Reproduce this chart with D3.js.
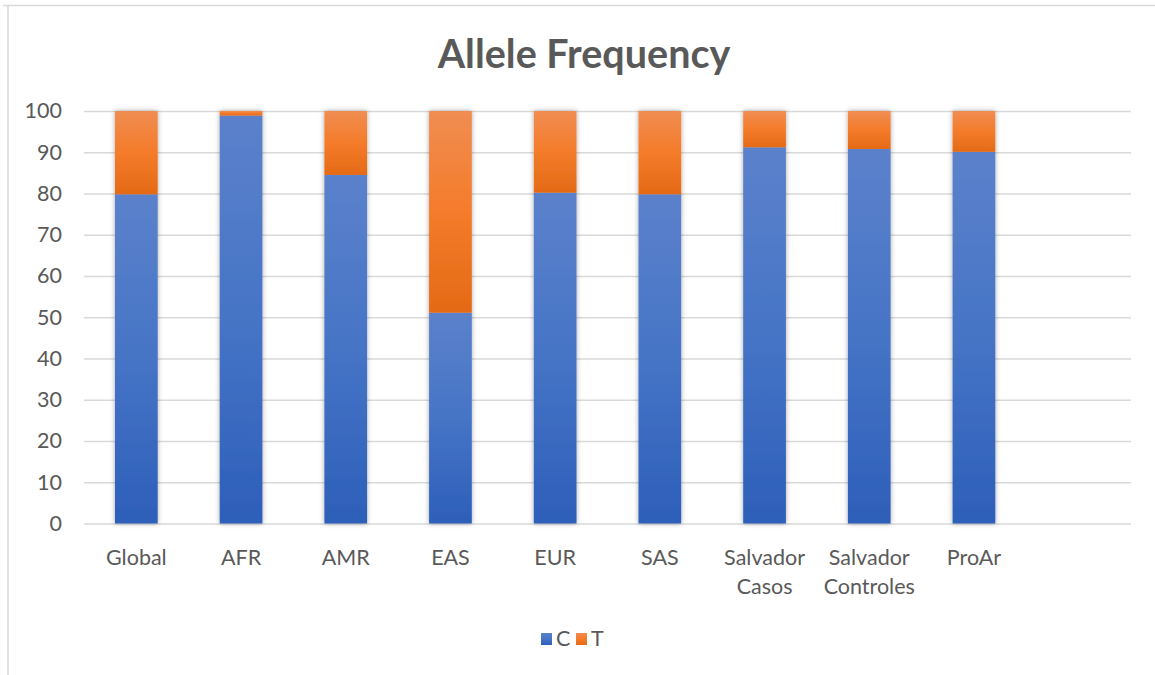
<!DOCTYPE html>
<html>
<head>
<meta charset="utf-8">
<script src="https://cdn.jsdelivr.net/npm/d3@7"></script>
<style>
  html, body { margin: 0; padding: 0; background: #fff; }
  svg { display: block; }
  text { font-family: Lato, "Open Sans", sans-serif; fill: #595959; }
</style>
</head>
<body>
<svg id="chart" width="1155" height="675"></svg>
<script>
const categories = ["Global", "AFR", "AMR", "EAS", "EUR", "SAS", "Salvador Casos", "Salvador Controles", "ProAr", ""];
const seriesNames = ["C", "T"];
const valuesC = [79.8, 98.9, 84.5, 51.1, 80.2, 79.8, 91.2, 90.8, 90.1, null];
const valuesT = [20.2, 1.1, 15.5, 48.9, 19.8, 20.2, 8.8, 9.2, 9.9, null];
const yTicks = [0, 10, 20, 30, 40, 50, 60, 70, 80, 90, 100];
const title = "Allele Frequency";

const svg = d3.select("#chart");
const W = 1155, H = 675;
const plot = { left: 84, right: 1131, top: 111, bottom: 523.5 };
const FONT = "Lato, 'Open Sans', sans-serif";
const LABEL_SIZE = "21.5px";

const defs = svg.append("defs");
function grad(id, top, mid, bottom) {
  const g = defs.append("linearGradient").attr("id", id)
    .attr("x1", 0).attr("y1", 0).attr("x2", 0).attr("y2", 1);
  g.append("stop").attr("offset", "0%").attr("stop-color", top);
  g.append("stop").attr("offset", "50%").attr("stop-color", mid);
  g.append("stop").attr("offset", "100%").attr("stop-color", bottom);
}
grad("gC", "#5b81cb", "#4674c6", "#2d5fb9");
grad("gT", "#f08d52", "#f47b2a", "#e46a16");
const f = defs.append("filter").attr("id", "shadow")
  .attr("x", "-40%").attr("y", "-10%").attr("width", "180%").attr("height", "120%");
f.append("feDropShadow").attr("dx", 0).attr("dy", 0).attr("stdDeviation", 2.5)
  .attr("flood-color", "#000").attr("flood-opacity", 0.35);

// chart frame (partial, as in the screenshot)
svg.append("line").attr("x1", 3).attr("x2", W).attr("y1", 5.5).attr("y2", 5.5)
  .attr("stroke", "#d9d9d9").attr("stroke-width", 1.5);
svg.append("line").attr("x1", 8).attr("x2", 8).attr("y1", 5).attr("y2", H)
  .attr("stroke", "#d9d9d9").attr("stroke-width", 1.5);

const x = d3.scaleBand().domain(categories).range([plot.left, plot.right])
  .paddingInner(0.592).paddingOuter(0.296);
const y = d3.scaleLinear().domain([0, 100]).range([plot.bottom, plot.top]);

// gridlines + y tick labels
const yAxis = d3.axisLeft(y).tickValues(yTicks).tickSize(-(plot.right - plot.left)).tickPadding(22);
const ga = svg.append("g").attr("transform", `translate(${plot.left},0)`).call(yAxis);
ga.select(".domain").remove();
ga.selectAll(".tick line").attr("stroke", "#d9d9d9").attr("stroke-width", 1.4);
ga.selectAll(".tick text").style("font-size", LABEL_SIZE).attr("fill", "#595959")
  .style("font-family", FONT);

// stacked bars
const rows = categories.map((c, i) => ({ cat: c, C: valuesC[i], T: valuesT[i] }))
  .filter(r => r.C != null);
const stack = d3.stack().keys(seriesNames)(rows);
const fills = { C: "url(#gC)", T: "url(#gT)" };
svg.append("g").attr("filter", "url(#shadow)")
  .selectAll("g").data(stack).join("g").attr("fill", d => fills[d.key])
  .selectAll("rect").data(d => d).join("rect")
  .attr("x", d => x(d.data.cat))
  .attr("width", x.bandwidth())
  .attr("y", d => y(d[1]))
  .attr("height", d => y(d[0]) - y(d[1]));

// x-axis labels
const xAxis = d3.axisBottom(x).tickSize(0).tickPadding(0);
const gx = svg.append("g").attr("transform", `translate(0,${plot.bottom})`).call(xAxis);
gx.select(".domain").remove();
gx.selectAll(".tick text").each(function(d) {
  const t = d3.select(this);
  t.text(null).attr("y", 0).attr("dy", null)
    .style("font-size", LABEL_SIZE).style("font-family", FONT)
    .attr("fill", "#595959");
  const words = d.split(" ");
  words.forEach((w, i) => {
    t.append("tspan").attr("x", 0).attr("y", 41 + i * 29).text(w);
  });
});

// title
svg.append("text").attr("x", 584).attr("y", 68).attr("text-anchor", "middle")
  .style("font-size", "39.5px").style("font-weight", "bold").attr("fill", "#595959")
  .text(title);

// legend
const legendData = [{ k: "C", x: 541, fill: "url(#gC)" }, { k: "T", x: 576, fill: "url(#gT)" }];
const lg = svg.append("g");
lg.selectAll("rect").data(legendData).join("rect")
  .attr("x", d => d.x).attr("y", 633).attr("width", 11).attr("height", 12)
  .attr("fill", d => d.fill);
lg.selectAll("text").data(legendData).join("text")
  .attr("x", d => d.x + 15).attr("y", 646)
  .style("font-size", LABEL_SIZE).attr("fill", "#595959").text(d => d.k);
</script>
</body>
</html>
